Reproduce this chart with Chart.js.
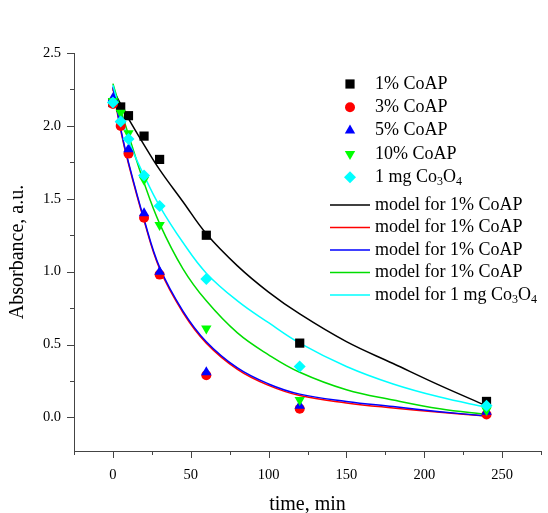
<!DOCTYPE html>
<html>
<head>
<meta charset="utf-8">
<script src="https://cdn.jsdelivr.net/npm/chart.js@4.4.0/dist/chart.umd.min.js"></script>
<style>
  html, body { margin: 0; padding: 0; background: #fff; }
  #wrap { width: 548px; height: 513px; position: relative; }
</style>
</head>
<body>
<div id="wrap"><canvas id="chart"></canvas></div>
<script>
// measured points
const timePoints = [0, 5, 10, 20, 30, 60, 120, 240];
const coap1 = [2.16, 2.13, 2.07, 1.93, 1.77, 1.25, 0.51, 0.11];
const coap3 = [2.15, 2.00, 1.81, 1.37, 0.98, 0.29, 0.06, 0.02];
const coap5 = [2.19, 2.04, 1.84, 1.40, 1.00, 0.31, 0.08, 0.04];
const coap10 = [2.17, 2.09, 1.95, 1.63, 1.32, 0.61, 0.12, 0.05];
const co3o4 = [2.16, 2.03, 1.91, 1.66, 1.45, 0.95, 0.35, 0.08];

// model curves
const modelTime = [0, 5, 10, 20, 30, 45, 60, 80, 100, 120, 150, 180, 210, 240];
const model1 = [2.25, 2.15, 2.05, 1.87, 1.70, 1.48, 1.26, 1.04, 0.86, 0.71, 0.52, 0.37, 0.22, 0.08];
const model3 = [2.26, 1.97, 1.74, 1.35, 1.02, 0.72, 0.51, 0.33, 0.22, 0.15, 0.10, 0.065, 0.035, 0.01];
const model5 = [2.27, 1.98, 1.75, 1.36, 1.03, 0.73, 0.52, 0.34, 0.23, 0.16, 0.11, 0.075, 0.04, 0.01];
const model10 = [2.29, 2.11, 1.94, 1.61, 1.33, 1.02, 0.80, 0.58, 0.43, 0.31, 0.19, 0.12, 0.06, 0.02];
const modelCo3o4 = [2.28, 2.08, 1.90, 1.66, 1.45, 1.20, 0.99, 0.80, 0.65, 0.51, 0.35, 0.23, 0.14, 0.07];

const xTicks = [-25, 0, 25, 50, 75, 100, 125, 150, 175, 200, 225, 250, 275];
const yTicks = [0, 0.25, 0.5, 0.75, 1, 1.25, 1.5, 1.75, 2, 2.25, 2.5];

const FONT = "'Liberation Serif', 'Times New Roman', serif";
const AXIS_COLOR = "#444";

// legend rows: text parts are [text, isSubscript]
const markerLegend = [
  { style: "rect", radius: 6.5, rotation: 0, color: "#000000", parts: [["1% CoAP", 0]] },
  { style: "circle", radius: 5, rotation: 0, color: "#ff0000", parts: [["3% CoAP", 0]] },
  { style: "triangle", radius: 6, rotation: 0, color: "#0000ff", parts: [["5% CoAP", 0]] },
  { style: "triangle", radius: 6, rotation: 180, color: "#00ff00", parts: [["10% CoAP", 0]] },
  { style: "rectRot", radius: 6, rotation: 0, color: "#00ffff", parts: [["1 mg Co", 0], ["3", 1], ["O", 0], ["4", 1]] },
];
const lineLegend = [
  { color: "#000000", parts: [["model for 1% CoAP", 0]] },
  { color: "#ff0000", parts: [["model for 1% CoAP", 0]] },
  { color: "#0000ff", parts: [["model for 1% CoAP", 0]] },
  { color: "#00dd00", parts: [["model for 1% CoAP", 0]] },
  { color: "#00ffff", parts: [["model for 1 mg Co", 0], ["3", 1], ["O", 0], ["4", 1]] },
];

function toPoints(xs, ys) {
  return xs.map((x, i) => ({ x, y: ys[i] }));
}

function markerSet(label, values, row) {
  return {
    label,
    data: toPoints(timePoints, values),
    showLine: false,
    pointStyle: row.style,
    pointRadius: row.radius,
    pointRotation: row.rotation,
    pointBackgroundColor: row.color,
    pointBorderColor: row.color,
    pointBorderWidth: 0,
    pointHoverRadius: row.radius,
  };
}

function modelSet(label, values, color) {
  return {
    type: "line",
    label,
    data: toPoints(modelTime, values),
    borderColor: color,
    backgroundColor: color,
    borderWidth: 1.5,
    pointRadius: 0,
    tension: 0.4,
    fill: false,
  };
}

function drawParts(ctx, parts, x, y) {
  let cx = x;
  parts.forEach(([text, sub]) => {
    ctx.font = sub ? `12px ${FONT}` : `18px ${FONT}`;
    ctx.fillText(text, cx, sub ? y + 5 : y);
    cx += ctx.measureText(text).width;
  });
}

const insideLegend = {
  id: "insideLegend",
  afterDraw(chart) {
    const ctx = chart.ctx;
    ctx.save();
    ctx.textBaseline = "middle";
    ctx.textAlign = "left";
    markerLegend.forEach((row, i) => {
      const y = 84 + i * 23.3;
      ctx.fillStyle = row.color;
      Chart.helpers.drawPoint(ctx, { pointStyle: row.style, radius: row.radius, rotation: row.rotation, borderWidth: 0 }, 350, y);
      ctx.fillStyle = "#000";
      drawParts(ctx, row.parts, 375, y);
    });
    lineLegend.forEach((row, i) => {
      const y = 205 + i * 22.5;
      ctx.strokeStyle = row.color;
      ctx.lineWidth = 1.5;
      ctx.beginPath();
      ctx.moveTo(330, y);
      ctx.lineTo(370, y);
      ctx.stroke();
      ctx.fillStyle = "#000";
      drawParts(ctx, row.parts, 375, y);
    });
    ctx.restore();
  },
};

const axisTicks = {
  id: "axisTicks",
  afterDraw(chart) {
    const { ctx, scales: { x, y } } = chart;
    ctx.save();
    ctx.strokeStyle = AXIS_COLOR;
    ctx.lineWidth = 1;
    ctx.beginPath();
    xTicks.forEach((v) => {
      const px = Math.round(x.getPixelForValue(v)) + 0.5;
      const len = v % 50 === 0 ? 7 : 4;
      ctx.moveTo(px, y.bottom);
      ctx.lineTo(px, y.bottom + len);
    });
    yTicks.forEach((v) => {
      const py = Math.round(y.getPixelForValue(v)) + 0.5;
      const len = v % 0.5 === 0 ? 7 : 4;
      ctx.moveTo(x.left, py);
      ctx.lineTo(x.left - len, py);
    });
    ctx.stroke();
    ctx.restore();
  },
};

const markerData = [
  markerSet("1 mg Co3O4", co3o4, markerLegend[4]),
  markerSet("10% CoAP", coap10, markerLegend[3]),
  markerSet("5% CoAP", coap5, markerLegend[2]),
  markerSet("3% CoAP", coap3, markerLegend[1]),
  markerSet("1% CoAP", coap1, markerLegend[0]),
];
const modelData = [
  modelSet("model for 1 mg Co3O4", modelCo3o4, "#00ffff"),
  modelSet("model for 1% CoAP", model10, "#00dd00"),
  modelSet("model for 1% CoAP", model5, "#0000ff"),
  modelSet("model for 1% CoAP", model3, "#ff0000"),
  modelSet("model for 1% CoAP", model1, "#000000"),
];

Chart.defaults.font.family = FONT;

new Chart(document.getElementById("chart"), {
  type: "scatter",
  data: { datasets: [...markerData, ...modelData] },
  options: {
    responsive: true,
    maintainAspectRatio: false,
    devicePixelRatio: 1,
    animation: false,
    layout: { padding: { top: 53, right: 1, left: 0, bottom: 0 } },
    plugins: { legend: { display: false }, tooltip: { enabled: false } },
    scales: {
      x: {
        type: "linear",
        min: -25,
        max: 275,
        afterBuildTicks: (scale) => { scale.ticks = xTicks.map((v) => ({ value: v })); },
        afterFit: (scale) => { scale.height = 62; },
        ticks: {
          autoSkip: false,
          maxRotation: 0,
          padding: 7,
          color: "#000",
          font: { size: 14.5 },
          callback: (v) => (v % 50 === 0 && v >= 0 && v <= 250 ? String(v) : ""),
        },
        grid: { display: false },
        border: { display: true, color: AXIS_COLOR, width: 1 },
        title: { display: true, text: "time, min", color: "#000", font: { size: 20, lineHeight: 1 }, padding: { top: 0, bottom: -2 } },
      },
      y: {
        type: "linear",
        min: -0.23,
        max: 2.5,
        afterBuildTicks: (scale) => { scale.ticks = yTicks.map((v) => ({ value: v })); },
        afterFit: (scale) => { scale.width = 74; },
        ticks: {
          autoSkip: false,
          padding: 5,
          color: "#000",
          font: { size: 14.5 },
          callback: (v) => (v % 0.5 === 0 ? v.toFixed(1) : ""),
        },
        grid: { display: false },
        border: { display: true, color: AXIS_COLOR, width: 1 },
        title: { display: true, text: "Absorbance, a.u.", color: "#000", font: { size: 20, lineHeight: 1 }, padding: { top: 8, bottom: 0 } },
      },
    },
  },
  plugins: [axisTicks, insideLegend],
});
</script>
</body>
</html>
